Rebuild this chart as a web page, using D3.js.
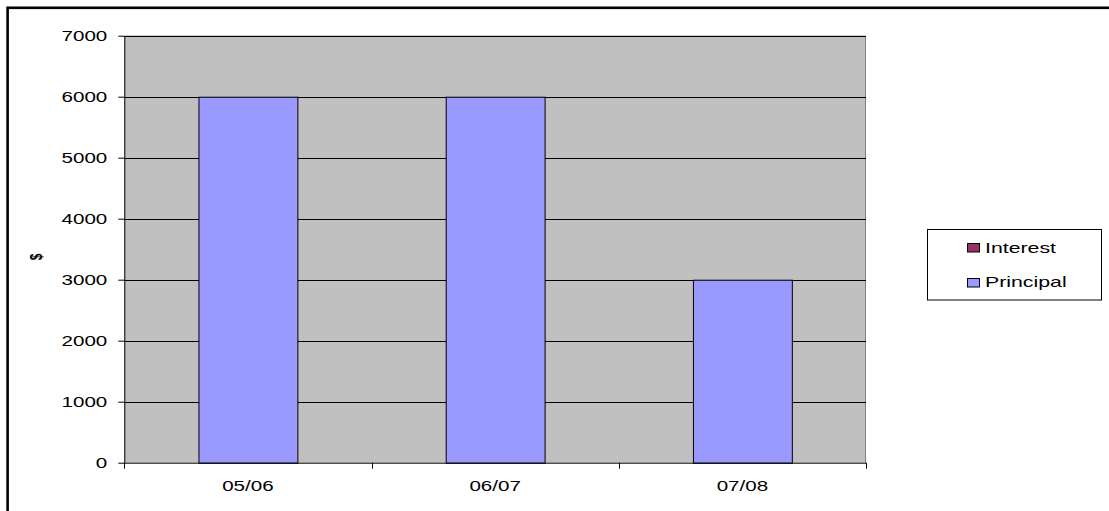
<!DOCTYPE html>
<html>
<head>
<meta charset="utf-8">
<script src="https://cdn.jsdelivr.net/npm/d3@7"></script>
<style>
  html, body { margin: 0; padding: 0; background: #fff; }
  svg { display: block; }
  text { font-family: "Liberation Sans", Arial, sans-serif; fill: #000; }
</style>
</head>
<body>
<svg id="chart" width="1109" height="511"></svg>
<script>
// Repayment schedule by financial year
const categories = ["05/06", "06/07", "07/08"];
const interest   = [0, 0, 0];
const principal  = [6000, 6000, 3000];
const seriesNames = ["Interest", "Principal"];
const yTicks = [0, 1000, 2000, 3000, 4000, 5000, 6000, 7000];

const W = 1109, H = 511;
const plot = { left: 124.3, right: 866, top: 35.7, bottom: 462.7 };
const stretch = 1.42;          // horizontal text widening
const fontPx = 14.5;

const colors = { Interest: "#993366", Principal: "#9999FF" };

const svg = d3.select("#chart");

// outer chart frame
svg.append("rect")
  .attr("x", 7.6).attr("y", 7.8)
  .attr("width", W + 20).attr("height", H + 20)
  .attr("fill", "none").attr("stroke", "#000").attr("stroke-width", 2.6);

const x = d3.scaleBand()
  .domain(categories)
  .range([plot.left, plot.right])
  .paddingInner(0.6)
  .paddingOuter(0.3);

const y = d3.scaleLinear()
  .domain([0, 7000])
  .range([plot.bottom, plot.top]);

// plot background
svg.append("rect")
  .attr("x", plot.left).attr("y", plot.top)
  .attr("width", plot.right - plot.left).attr("height", plot.bottom - plot.top)
  .attr("fill", "#C0C0C0");

// plot border (top/right)
svg.append("path")
  .attr("d", `M${plot.left},${plot.top + 0.5}H${plot.right - 0.5}V${plot.bottom}`)
  .attr("fill", "none").attr("stroke", "#808080").attr("stroke-width", 1);

// horizontal gridlines
svg.append("g")
  .selectAll("line")
  .data(yTicks.filter(d => d > 0))
  .join("line")
  .attr("x1", plot.left).attr("x2", plot.right)
  .attr("y1", d => Math.round(y(d)) + 0.5).attr("y2", d => Math.round(y(d)) + 0.5)
  .attr("stroke", "#000").attr("stroke-width", 1);

// stacked bars
const rows = categories.map((c, i) => ({ cat: c, Interest: interest[i], Principal: principal[i] }));
const stacked = d3.stack().keys(["Principal", "Interest"])(rows);

svg.append("g")
  .selectAll("g")
  .data(stacked)
  .join("g")
  .attr("fill", d => colors[d.key])
  .selectAll("rect")
  .data(d => d.filter(s => s[1] - s[0] > 0))
  .join("rect")
  .attr("x", d => x(d.data.cat) + 0.5)
  .attr("y", d => y(d[1]) + 0.5)
  .attr("width", x.bandwidth())
  .attr("height", d => y(d[0]) - y(d[1]))
  .attr("stroke", "#000").attr("stroke-width", 1);

// y axis
const yAxis = svg.append("g")
  .attr("transform", `translate(${plot.left},0)`)
  .call(d3.axisLeft(y).tickValues(yTicks).tickSize(6).tickSizeOuter(0).tickFormat(d3.format("d")));
yAxis.select(".domain").attr("stroke", "#000");
yAxis.selectAll(".tick line").attr("stroke", "#000");
yAxis.selectAll(".tick text")
  .attr("x", -17 / stretch)
  .attr("dy", "0.35em")
  .attr("transform", `scale(${stretch},1)`)
  .style("font-size", fontPx + "px")
  .style("font-family", "'Liberation Sans', Arial, sans-serif")
  .attr("fill", "#000");

// x axis with ticks between categories
const xAxisG = svg.append("g").attr("transform", `translate(0,${plot.bottom})`);
xAxisG.append("line")
  .attr("x1", plot.left).attr("x2", plot.right)
  .attr("y1", 0.5).attr("y2", 0.5)
  .attr("stroke", "#000");
const boundaries = d3.range(categories.length + 1).map(i => x.range()[0] + i * x.step());
xAxisG.selectAll("line.tk")
  .data(boundaries)
  .join("line")
  .attr("class", "tk")
  .attr("x1", d => Math.round(d) + 0.5).attr("x2", d => Math.round(d) + 0.5)
  .attr("y1", 0).attr("y2", 6)
  .attr("stroke", "#000");
xAxisG.selectAll("text")
  .data(categories)
  .join("text")
  .attr("transform", d => `translate(${x(d) + x.bandwidth() / 2},28) scale(${stretch},1)`)
  .attr("text-anchor", "middle")
  .style("font-size", fontPx + "px")
  .text(d => d);

// y axis title
svg.append("text")
  .attr("transform", `translate(41.5,257) scale(${stretch},1) rotate(-90)`)
  .attr("text-anchor", "middle")
  .style("font-size", "12px")
  .style("font-weight", "bold")
  .text("$");

// legend
const legend = svg.append("g");
legend.append("rect")
  .attr("x", 927.5).attr("y", 229.5)
  .attr("width", 174).attr("height", 70.5)
  .attr("fill", "#fff").attr("stroke", "#000").attr("stroke-width", 1);

const legendRows = [
  { name: seriesNames[0], sy: 243, base: 253.3 },
  { name: seriesNames[1], sy: 278, base: 287.3 }
];
legend.selectAll("rect.sw")
  .data(legendRows)
  .join("rect")
  .attr("class", "sw")
  .attr("x", 967.5).attr("y", d => d.sy + 0.5)
  .attr("width", 12).attr("height", 8.5)
  .attr("fill", d => colors[d.name])
  .attr("stroke", "#000").attr("stroke-width", 1);
legend.selectAll("text")
  .data(legendRows)
  .join("text")
  .attr("transform", d => `translate(985,${d.base}) scale(${stretch},1)`)
  .style("font-size", "15px")
  .text(d => d.name);
</script>
</body>
</html>
